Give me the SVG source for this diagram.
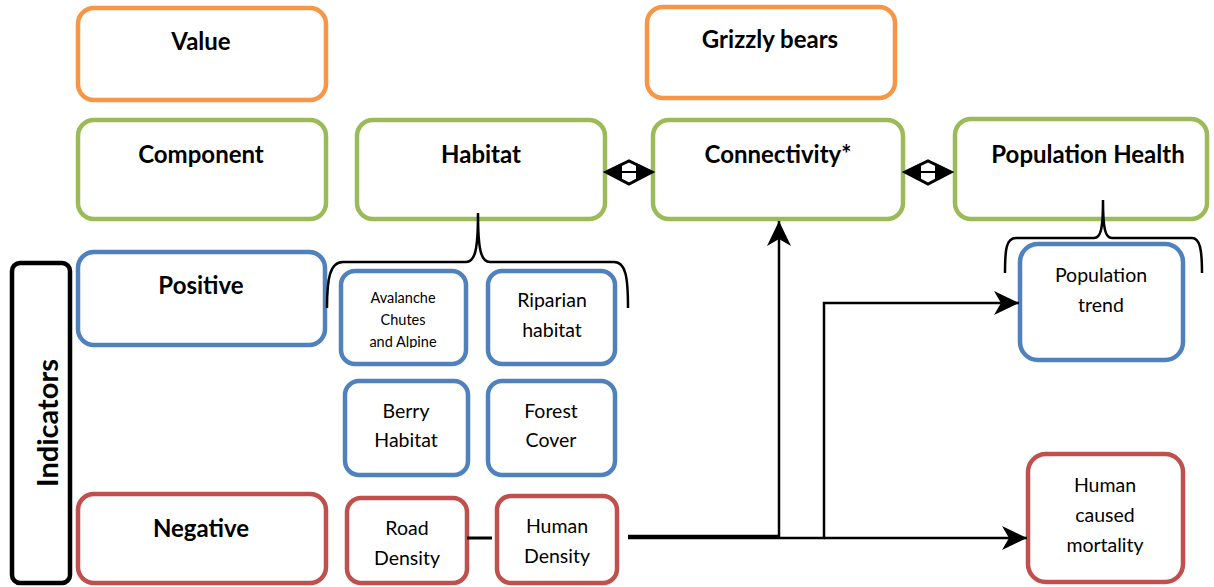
<svg xmlns="http://www.w3.org/2000/svg" width="1214" height="587" viewBox="0 0 1214 587">
<style>
.box{fill:#fff;stroke-width:4.5}
.o{stroke:#F79646}.g{stroke:#9BBB59}.b{stroke:#4F81BD}.r{stroke:#C0504D}.k{stroke:#000}
.h{font-family:Lato,"Open Sans","Liberation Sans",sans-serif;font-weight:bold;font-size:24px;fill:#000;text-anchor:middle}
.t{font-family:Lato,"Open Sans","Liberation Sans",sans-serif;font-size:19.5px;fill:#000;text-anchor:middle}
.s{font-family:Lato,"Open Sans","Liberation Sans",sans-serif;font-size:14.5px;fill:#000;text-anchor:middle}
.ln{fill:none;stroke:#000;stroke-width:2.5}
.br{fill:none;stroke:#000;stroke-width:2.5}
</style>
<defs>
<marker id="arr" markerUnits="userSpaceOnUse" markerWidth="27" markerHeight="26" refX="25" refY="12" orient="auto" viewBox="0 0 27 26">
<path d="M0,0 L25,12 L0,24 L7,12 z" fill="#000"/>
</marker>
<clipPath id="avclip"><rect x="340" y="270" width="126" height="78"/></clipPath>
</defs>

<g id="value"><rect class="box o" x="78" y="8" width="248" height="92" rx="16"/><text class="h" x="201" y="50">Value</text></g>
<g id="grizzly"><rect class="box o" x="647" y="7" width="248" height="91" rx="16"/><text class="h" x="770" y="48">Grizzly bears</text></g>

<g id="component"><rect class="box g" x="78" y="120" width="248" height="99" rx="16"/><text class="h" x="201" y="163">Component</text></g>
<g id="habitat"><rect class="box g" x="357" y="120" width="248" height="99" rx="16"/><text class="h" x="481" y="163">Habitat</text></g>
<g id="connectivity"><rect class="box g" x="653" y="120" width="250" height="99" rx="16"/><text class="h" x="778" y="163">Connectivity*</text></g>
<g id="pophealth"><rect class="box g" x="955" y="119" width="252" height="100" rx="16"/><text class="h" x="1088" y="163">Population Health</text></g>

<g id="indicators"><rect class="box k" x="12" y="263" width="58" height="320" rx="8"/><text class="h" style="font-size:29px" transform="translate(58,423) rotate(-90)">Indicators</text></g>

<g id="positive"><rect class="box b" x="78" y="252" width="247" height="93" rx="16"/><text class="h" x="201" y="294">Positive</text></g>
<g id="negative"><rect class="box r" x="78" y="494" width="248" height="89" rx="16"/><text class="h" x="201" y="537">Negative</text></g>

<g id="avalanche"><rect class="box b" x="341" y="271" width="125" height="93" rx="14"/>
<g clip-path="url(#avclip)"><text class="s" x="403" y="303">Avalanche</text><text class="s" x="403" y="325">Chutes</text><text class="s" x="403" y="347">and Alpine</text></g></g>
<g id="riparian"><rect class="box b" x="488" y="271" width="127" height="93" rx="14"/><text class="t" x="552" y="307">Riparian</text><text class="t" x="552" y="337">habitat</text></g>
<g id="berry"><rect class="box b" x="345" y="381" width="123" height="94" rx="14"/><text class="t" x="406" y="418">Berry</text><text class="t" x="406" y="447">Habitat</text></g>
<g id="forest"><rect class="box b" x="488" y="381" width="127" height="94" rx="14"/><text class="t" x="551" y="418">Forest</text><text class="t" x="551" y="447">Cover</text></g>

<g id="road"><rect class="box r" x="347" y="498" width="120" height="85" rx="14"/><text class="t" x="407" y="535">Road</text><text class="t" x="407" y="565">Density</text></g>
<g id="human"><rect class="box r" x="497" y="496" width="120" height="87" rx="14"/><text class="t" x="557" y="533">Human</text><text class="t" x="557" y="563">Density</text></g>

<g id="poptrend"><rect class="box b" x="1020" y="244" width="163" height="116" rx="18"/><text class="t" x="1101" y="282">Population</text><text class="t" x="1101" y="312">trend</text></g>
<g id="mortality"><rect class="box r" x="1028" y="454" width="155" height="128" rx="18"/><text class="t" x="1105" y="492">Human</text><text class="t" x="1105" y="522">caused</text><text class="t" x="1105" y="552">mortality</text></g>

<g id="connectors">
<path class="br" d="M327,308 C327,278 330,262 343,262 L466,262 C475,262 478,250 478,213 C478,250 481,262 490,262 L614,262 C626,262 628,278 628,308"/>
<path class="br" d="M1005,273 C1005,250 1006,238 1016,238 L1094,238 C1101,238 1103,228 1103,200 C1103,228 1105,238 1112,238 L1192,238 C1200,238 1202,250 1202,273"/>
<line x1="467" y1="538" x2="492" y2="538" stroke="#000" stroke-width="3"/>
<line x1="628" y1="537" x2="779" y2="537" stroke="#000" stroke-width="4.5"/>
<path class="ln" d="M779,538 L779,221" marker-end="url(#arr)"/>
<path class="ln" d="M779,538 L824,538 L824,303 L1019,303" marker-end="url(#arr)"/>
<path class="ln" d="M824,538 L1027,538" marker-end="url(#arr)"/>
<g id="dbl1">
<path d="M606,172 L629,161 L652,172 L629,184 Z" fill="#fff" stroke="#000" stroke-width="3" stroke-linejoin="miter"/>
<path d="M604,172 L622,163 L622,181 Z M654,172 L636,163 L636,181 Z" fill="#000"/>
<line x1="606" y1="172" x2="652" y2="172" stroke="#000" stroke-width="2"/>
</g>
<g id="dbl2">
<path d="M905,172 L928,161 L951,172 L928,184 Z" fill="#fff" stroke="#000" stroke-width="3"/>
<path d="M903,172 L921,163 L921,181 Z M953,172 L935,163 L935,181 Z" fill="#000"/>
<line x1="905" y1="172" x2="951" y2="172" stroke="#000" stroke-width="2"/>
</g>
</g>
</svg>
